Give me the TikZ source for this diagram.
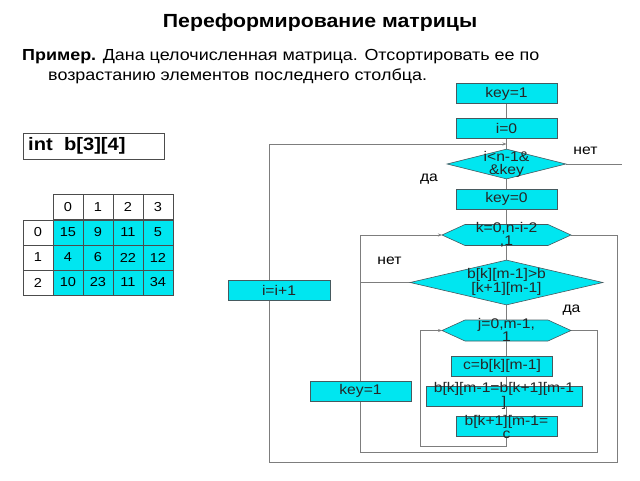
\documentclass[tikz,border=0pt]{standalone}
\usepackage{fontspec}
\setmainfont{Liberation Sans}[FakeStretch=1.12]
\usetikzlibrary{arrows.meta,shapes.geometric}
\definecolor{cy}{RGB}{0,230,240}
\definecolor{bd}{RGB}{70,90,95}
\definecolor{ln}{RGB}{125,125,125}
\pgfdeclarelayer{bg}
\pgfsetlayers{bg,main}
\begin{document}
\begin{tikzpicture}[x=1pt,y=-1pt,
  box/.style={draw=bd, fill=cy, line width=0.6pt, inner sep=0pt, minimum height=20pt, font=\fontsize{14}{12}\selectfont, text=black!85, align=center},
  ftxt/.style={font=\fontsize{14}{13}\selectfont, align=center, inner sep=0pt, text=black!85},
  lbl/.style={font=\fontsize{14}{14}\selectfont, inner sep=0pt},
  conn/.style={draw=ln, line width=0.8pt},
  arr/.style={conn, -{Stealth[length=4pt,width=3pt]}},
  shp/.style={draw=bd, fill=cy, line width=0.6pt},
  cell/.style={draw=gray!60!black, line width=0.6pt, minimum width=30pt, minimum height=25pt, inner sep=0pt, font=\fontsize{13}{13}\selectfont},
  dcell/.style={cell, fill=cy}]
\useasboundingbox (0,0) rectangle (640,480);

% texts
\node[font=\bfseries\fontsize{19}{19}\selectfont, anchor=base, inner sep=0pt] (title) at (320,27) {Переформирование матрицы};
\node[anchor=base west, font=\fontsize{16}{16}\selectfont, inner sep=0pt] (p1) at (22,60) {\textbf{Пример.} Дана целочисленная матрица. Отсортировать ее по};
\node[anchor=base west, font=\fontsize{16}{16}\selectfont, inner sep=0pt] (p2) at (48,80) {возрастанию элементов последнего столбца.};

% declaration box
\node[draw=gray!60!black, line width=0.6pt, minimum width=141pt, minimum height=26pt, inner sep=0pt, anchor=north west] (decl) at (23,133) {};
\node[anchor=west, inner sep=0pt, font=\bfseries\fontsize{18}{18}\selectfont] (decltext) at (28,146) {int~~b[3][4]};

% table
\foreach \c/\x in {0/68,1/98,2/128,3/158}{
  \node[cell] (h\c) at (\x,207) {\c};
}
\foreach \r/\y in {0/232.5,1/257.5,2/282.5}{
  \node[cell, minimum width=30pt] (r\r) at (38,\y) {\r};
}
\foreach \v [count=\k from 0] in {15,9,11,5}{ \node[dcell] (a0\k) at (68+30*\k,232.5) {\v}; }
\foreach \v [count=\k from 0] in {4,6,22,12}{ \node[dcell] (a1\k) at (68+30*\k,257.5) {\v}; }
\foreach \v [count=\k from 0] in {10,23,11,34}{ \node[dcell] (a2\k) at (68+30*\k,282.5) {\v}; }

% flowchart nodes
\node[box, minimum width=101pt] (key1) at (506.5,93.5) {key=1};
\node[box, minimum width=101pt] (i0) at (506.5,128.5) {i=0};
\node[diamond, shp, minimum width=119pt, minimum height=30pt, inner sep=0pt] (c1) at (506.5,164) {};
\node[ftxt] (c1t) at (506.5,164.5) {i<n-1\&\\\&key};
\node[box, minimum width=101pt] (key0) at (506.5,199) {key=0};

\coordinate (kL) at (442,235);
\coordinate (kR) at (571,235);
\draw[shp] (kL) -- (465,224.5) -- (548,224.5) -- (kR) -- (548,245.5) -- (465,245.5) -- cycle;
\node[ftxt] (kt) at (506.5,235) {k=0,n-i-2\\,1};

\node[diamond, shp, minimum width=193pt, minimum height=45pt, inner sep=0pt] (c2) at (506.5,282.5) {};
\node[ftxt] (c2t) at (506.5,281.5) {b[k][m-1]>b\\{}[k+1][m-1]};

\coordinate (jL) at (442,330.5);
\coordinate (jR) at (571,330.5);
\draw[shp] (jL) -- (465,320) -- (548,320) -- (jR) -- (548,341) -- (465,341) -- cycle;
\node[ftxt] (jt) at (506.5,330) {j=0,m-1,\\1};

\node[box, minimum width=101pt] (cb) at (502,366) {c=b[k][m-1]};
\node[box, minimum width=156pt] (b2) at (504,396) {};
\node[ftxt, font=\fontsize{14}{12.5}\selectfont] (b2t) at (504,396) {b[k][m-1=b[k+1][m-1\\{}]};
\node[box, minimum width=101pt] (b3) at (506.5,426) {};
\node[ftxt, font=\fontsize{14}{13}\selectfont] (b3t) at (506.5,427) {b[k+1][m-1=\\c};

\node[box, minimum width=101pt] (key1b) at (360.5,391) {key=1};
\node[box, minimum width=102pt] (inc) at (279,290) {i=i+1};

% labels
\node[lbl] (no1) at (585.5,151) {нет};
\node[lbl] (yes1) at (429,179) {да};
\node[lbl] (no2) at (389.5,261) {нет};
\node[lbl] (yes2) at (571.5,310) {да};

% corner coordinates
\coordinate (loopIn) at (506.5,144);
\coordinate (oBR) at (617,462);
\coordinate (oBL) at (269,462);
\coordinate (mBR) at (597,452);
\coordinate (mBL) at (360.5,452);
\coordinate (iBL) at (420,446);
\coordinate (exitR) at (622,164);
\coordinate (spineEnd) at (506.5,446);

\begin{pgfonlayer}{bg}
  \draw[conn] (key1.center) -- (spineEnd);
  \draw[conn] (c1.east) -- (exitR);
  \draw[arr] (kR) -| (oBR) -- (oBL) -- (oBL |- loopIn) -- (loopIn);
  \draw[arr] (jR) -| (mBR) -- (mBL) -- (mBL |- kL) -- (kL);
  \draw[conn] (c2.west) -- (c2.west -| mBL);
  \draw[arr] (spineEnd) -- (iBL) -- (iBL |- jL) -- (jL);
\end{pgfonlayer}
\end{tikzpicture}
\end{document}
